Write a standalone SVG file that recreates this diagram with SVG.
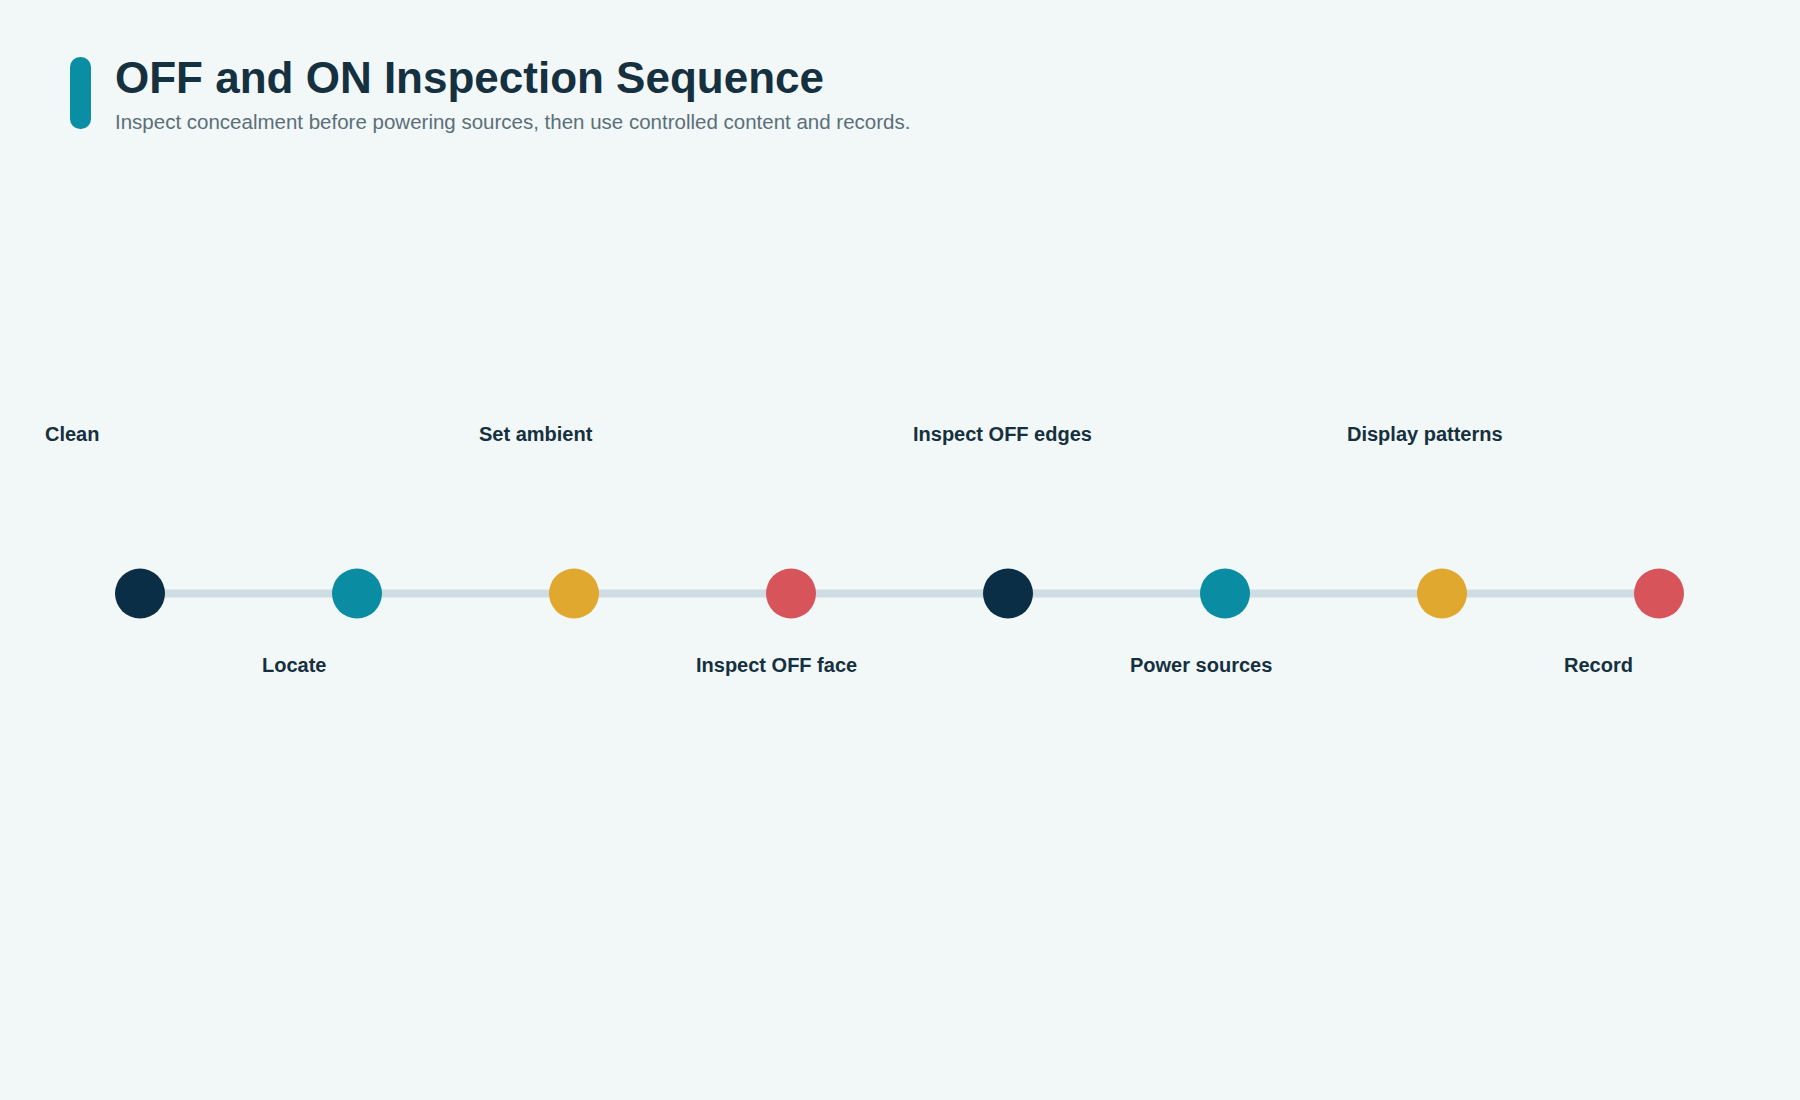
<svg xmlns="http://www.w3.org/2000/svg" width="1800" height="1100" viewBox="0 0 1800 1100">
<style>
.lbl{font-family:"Liberation Sans",Arial,sans-serif;font-weight:bold;font-size:20px;fill:#15303f}
.c1{fill:#0b2e47}.c2{fill:#0a8da3}.c3{fill:#e0a82e}.c4{fill:#d6545a}
</style>
<rect width="1800" height="1100" fill="#f2f7f7"/>
<g id="header">
<rect x="70" y="57" width="21" height="72" rx="10" fill="#0a8ea3"/>
<text x="115" y="93" font-family="Liberation Sans,Arial,sans-serif" font-weight="bold" font-size="44" fill="#15303f">OFF and ON Inspection Sequence</text>
<text x="115" y="129" font-family="Liberation Sans,Arial,sans-serif" font-size="20.5" fill="#5b6f79">Inspect concealment before powering sources, then use controlled content and records.</text>
</g>
<g id="connectors">
<line x1="140" y1="593.5" x2="1659" y2="593.5" stroke="#cddde3" stroke-width="8"/>
</g>
<g id="n1"><circle cx="140" cy="593.5" r="25" class="c1"/><text x="45" y="441" class="lbl">Clean</text></g>
<g id="n2"><circle cx="357" cy="593.5" r="25" class="c2"/><text x="262" y="672" class="lbl">Locate</text></g>
<g id="n3"><circle cx="574" cy="593.5" r="25" class="c3"/><text x="479" y="441" class="lbl">Set ambient</text></g>
<g id="n4"><circle cx="791" cy="593.5" r="25" class="c4"/><text x="696" y="672" class="lbl">Inspect OFF face</text></g>
<g id="n5"><circle cx="1008" cy="593.5" r="25" class="c1"/><text x="913" y="441" class="lbl">Inspect OFF edges</text></g>
<g id="n6"><circle cx="1225" cy="593.5" r="25" class="c2"/><text x="1130" y="672" class="lbl">Power sources</text></g>
<g id="n7"><circle cx="1442" cy="593.5" r="25" class="c3"/><text x="1347" y="441" class="lbl">Display patterns</text></g>
<g id="n8"><circle cx="1659" cy="593.5" r="25" class="c4"/><text x="1564" y="672" class="lbl">Record</text></g>
</svg>
